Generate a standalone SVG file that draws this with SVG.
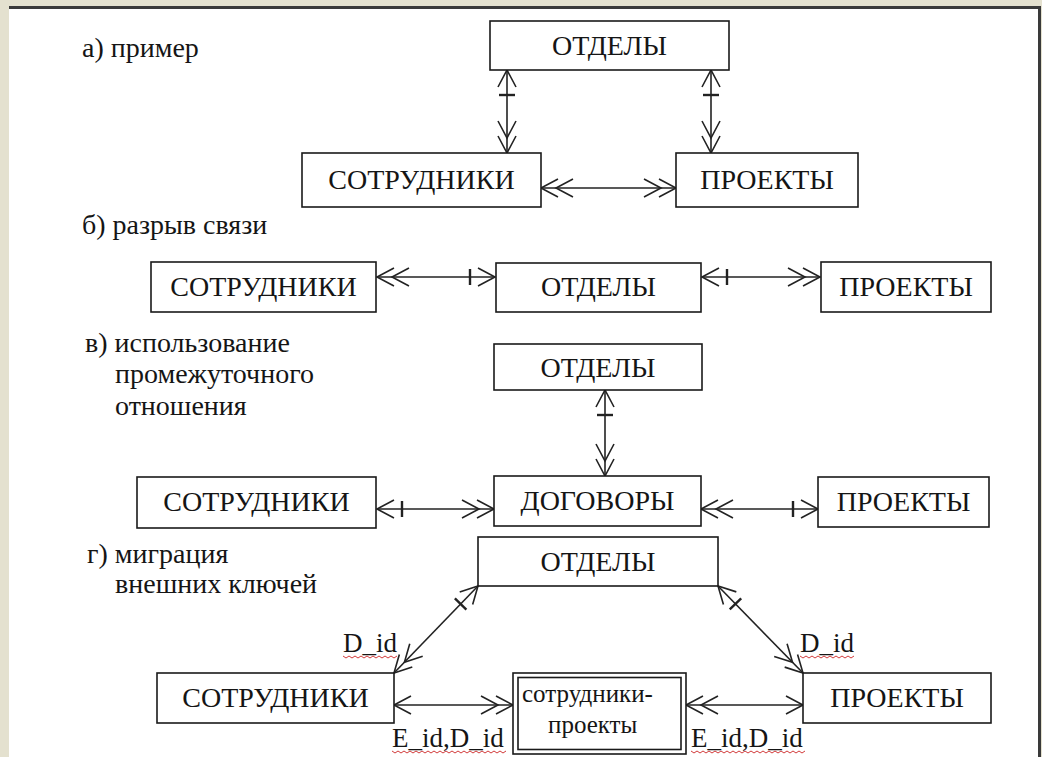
<svg xmlns="http://www.w3.org/2000/svg" width="1042" height="757" viewBox="0 0 1042 757">
<style>
.box{fill:#fff;stroke:#1a1a1a;stroke-width:1.6}
.t{font-family:"Liberation Serif","Times New Roman",serif;font-size:28px;fill:#151515}
.tc{text-anchor:middle}
.lbl{font-family:"Liberation Serif","Times New Roman",serif;font-size:28px;fill:#151515}
.small{font-family:"Liberation Serif","Times New Roman",serif;font-size:25px;fill:#151515}
.key{font-family:"Liberation Serif","Times New Roman",serif;font-size:27px;fill:#151515}
.c{fill:none;stroke:#222;stroke-width:1.6}
.w{fill:none;stroke:#d23a3a;stroke-width:1}
</style>
<defs>
<marker id="one" markerUnits="userSpaceOnUse" viewBox="-40 -14 44 28" markerWidth="44" markerHeight="28" refX="0" refY="0" orient="auto-start-reverse" overflow="visible">
<path d="M-17,-9 L0,0 L-17,9" fill="none" stroke="#222" stroke-width="1.6"/>
</marker>
<marker id="oneBar" markerUnits="userSpaceOnUse" viewBox="-40 -14 44 28" markerWidth="44" markerHeight="28" refX="0" refY="0" orient="auto-start-reverse" overflow="visible">
<path d="M-17,-9 L0,0 L-17,9" fill="none" stroke="#222" stroke-width="1.6"/>
<path d="M-25,-8 V8" fill="none" stroke="#222" stroke-width="2.4"/>
</marker>
<marker id="many" markerUnits="userSpaceOnUse" viewBox="-40 -14 44 28" markerWidth="44" markerHeight="28" refX="0" refY="0" orient="auto-start-reverse" overflow="visible">
<path d="M-17,-9 L0,0 L-17,9 M-32,-9 L-15,0 L-32,9" fill="none" stroke="#222" stroke-width="1.6"/>
</marker>
</defs>

<rect x="0" y="0" width="1042" height="757" fill="#e4e1cf"/>
<rect x="9" y="8" width="1030" height="749" fill="#fff"/>
<path d="M9,7.5 H1039.5 V757" fill="none" stroke="#3a3a3a" stroke-width="3"/>

<g id="labels">
<text class="lbl" x="82" y="57">а) пример</text>
<text class="lbl" x="82" y="234">б) разрыв связи</text>
<text class="lbl" x="85" y="352">в) использование</text>
<text class="lbl" x="115" y="383">промежуточного</text>
<text class="lbl" x="115" y="415">отношения</text>
<text class="lbl" x="87" y="563">г) миграция</text>
<text class="lbl" x="115" y="593">внешних ключей</text>
</g>

<g id="connectors">
<path class="c" d="M507,70 V153" marker-start="url(#oneBar)" marker-end="url(#many)"/>
<path class="c" d="M711,70 V153" marker-start="url(#oneBar)" marker-end="url(#many)"/>
<path class="c" d="M541,188 H676" marker-start="url(#many)" marker-end="url(#many)"/>
<path class="c" d="M377,277 H495" marker-start="url(#many)" marker-end="url(#oneBar)"/>
<path class="c" d="M702,277 H820" marker-start="url(#oneBar)" marker-end="url(#many)"/>
<path class="c" d="M605,390 V476" marker-start="url(#oneBar)" marker-end="url(#many)"/>
<path class="c" d="M377,509 H494" stroke-width="2.2" marker-start="url(#oneBar)" marker-end="url(#many)"/>
<path class="c" d="M701,509 H818" stroke-width="2.2" marker-start="url(#many)" marker-end="url(#oneBar)"/>
<path class="c" d="M478,586 L394,673" marker-start="url(#oneBar)" marker-end="url(#many)"/>
<path class="c" d="M718,586 L803,673" marker-start="url(#oneBar)" marker-end="url(#many)"/>
<path class="c" d="M394,705 H513" stroke-width="2.2" marker-start="url(#one)" marker-end="url(#many)"/>
<path class="c" d="M686,705 H803" stroke-width="2.2" marker-start="url(#many)" marker-end="url(#one)"/>
</g>

<g id="a-otdely"><rect class="box" x="490" y="21" width="239" height="49"/><text class="t tc" x="609.5" y="55">ОТДЕЛЫ</text></g>
<g id="a-sotrudniki"><rect class="box" x="302" y="153" width="239" height="54"/><text class="t tc" x="421.5" y="189">СОТРУДНИКИ</text></g>
<g id="a-proekty"><rect class="box" x="676" y="153" width="182" height="54"/><text class="t tc" x="767" y="189">ПРОЕКТЫ</text></g>

<g id="b-sotrudniki"><rect class="box" x="151" y="262" width="225" height="50"/><text class="t tc" x="263.5" y="296">СОТРУДНИКИ</text></g>
<g id="b-otdely"><rect class="box" x="496" y="263" width="205" height="49"/><text class="t tc" x="598.5" y="296">ОТДЕЛЫ</text></g>
<g id="b-proekty"><rect class="box" x="821" y="262" width="170" height="50"/><text class="t tc" x="906" y="296">ПРОЕКТЫ</text></g>

<g id="c-otdely"><rect class="box" x="494" y="344" width="208" height="46"/><text class="t tc" x="598" y="377">ОТДЕЛЫ</text></g>
<g id="c-sotrudniki"><rect class="box" x="137" y="477" width="239" height="51"/><text class="t tc" x="256.5" y="511">СОТРУДНИКИ</text></g>
<g id="c-dogovory"><rect class="box" x="494" y="476" width="207" height="50"/><text class="t tc" x="597.5" y="510">ДОГОВОРЫ</text></g>
<g id="c-proekty"><rect class="box" x="818" y="477" width="171" height="50"/><text class="t tc" x="903.5" y="511">ПРОЕКТЫ</text></g>

<g id="d-otdely"><rect class="box" x="478" y="537" width="240" height="49"/><text class="t tc" x="598" y="571">ОТДЕЛЫ</text></g>
<g id="d-sotrudniki"><rect class="box" x="157" y="673" width="237" height="50"/><text class="t tc" x="275.5" y="707">СОТРУДНИКИ</text></g>
<g id="d-proekty"><rect class="box" x="803" y="673" width="188" height="50"/><text class="t tc" x="897" y="707">ПРОЕКТЫ</text></g>
<g id="d-sotr-proekty">
<rect class="box" x="513" y="673" width="173" height="81"/>
<rect class="box" x="518" y="677.5" width="163" height="72"/>
<text class="small" x="522" y="702">сотрудники-</text>
<text class="small" x="548" y="733">проекты</text>
</g>

<g id="keys">
<text class="key" x="343" y="652">D_id</text>
<text class="key" x="800" y="652">D_id</text>
<text class="key" x="392" y="747">E_id,D_id</text>
<text class="key" x="691" y="747">E_id,D_id</text>
<path class="w" d="M343,656 l3,2 l3,-2 l3,2 l3,-2 l3,2 l3,-2 l3,2 l3,-2 l3,2 l3,-2 l3,2 l3,-2 l3,2 l3,-2 l3,2 l3,-2 l3,2 l3,-2"/>
<path class="w" d="M800,656 l3,2 l3,-2 l3,2 l3,-2 l3,2 l3,-2 l3,2 l3,-2 l3,2 l3,-2 l3,2 l3,-2 l3,2 l3,-2 l3,2 l3,-2 l3,2 l3,-2"/>
<path class="w" d="M392,751 l3,2 l3,-2 l3,2 l3,-2 l3,2 l3,-2 l3,2 l3,-2 l3,2 l3,-2 l3,2 l3,-2 l3,2 l3,-2 l3,2 l3,-2 l3,2 l3,-2 l3,2 l3,-2 l3,2 l3,-2 l3,2 l3,-2 l3,2 l3,-2 l3,2 l3,-2 l3,2 l3,-2 l3,2 l3,-2 l3,2 l3,-2 l3,2 l3,-2 l3,2 l3,-2"/>
<path class="w" d="M691,751 l3,2 l3,-2 l3,2 l3,-2 l3,2 l3,-2 l3,2 l3,-2 l3,2 l3,-2 l3,2 l3,-2 l3,2 l3,-2 l3,2 l3,-2 l3,2 l3,-2 l3,2 l3,-2 l3,2 l3,-2 l3,2 l3,-2 l3,2 l3,-2 l3,2 l3,-2 l3,2 l3,-2 l3,2 l3,-2 l3,2 l3,-2 l3,2 l3,-2 l3,2 l3,-2"/>
</g>
</svg>
